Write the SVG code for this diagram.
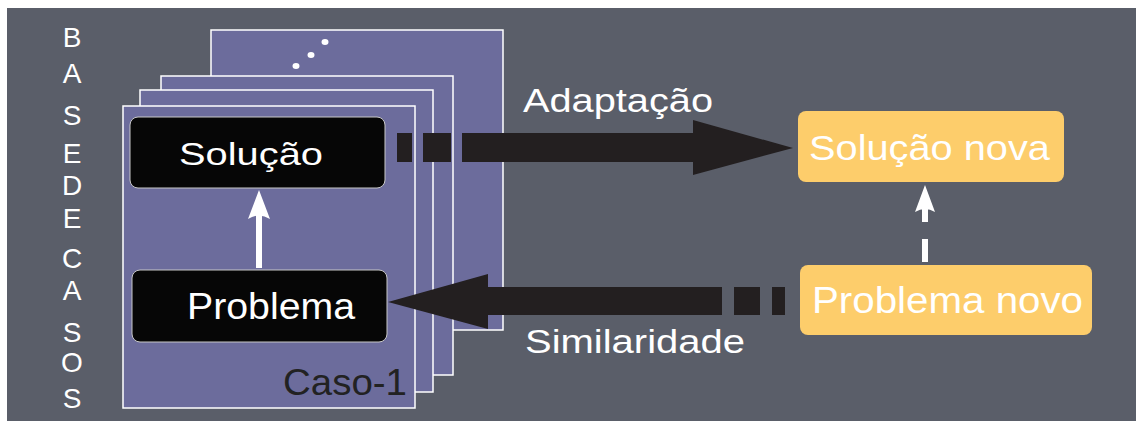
<svg xmlns="http://www.w3.org/2000/svg" width="1136" height="422" viewBox="0 0 1136 422">
<style>
.card{fill:#6c6c9c;stroke:#ffffff;stroke-width:1.5}
.blk{fill:#060606;stroke:#c8c8c8;stroke-width:1}
.yel{fill:#fdcd6b}
.t{font-family:"Liberation Sans",Arial,sans-serif;fill:#ffffff}
.ltr{font-family:"Liberation Sans",Arial,sans-serif;fill:#ffffff;font-size:28px;text-anchor:middle}
.dk{fill:#231f20}
.wh{fill:#ffffff}
</style>
<rect x="0" y="0" width="1136" height="422" fill="#ffffff"/>
<rect x="7" y="8" width="1129" height="413" fill="#5a5e69"/>
<g id="letters">
<text class="ltr" x="72" y="47">B</text>
<text class="ltr" x="72" y="83">A</text>
<text class="ltr" x="72" y="125">S</text>
<text class="ltr" x="72" y="163">E</text>
<text class="ltr" x="72" y="195">D</text>
<text class="ltr" x="72" y="228">E</text>
<text class="ltr" x="72" y="268">C</text>
<text class="ltr" x="72" y="300">A</text>
<text class="ltr" x="72" y="342">S</text>
<text class="ltr" x="72" y="372">O</text>
<text class="ltr" x="72" y="408">S</text>
</g>
<g id="cards">
<rect class="card" x="211" y="30" width="292" height="300"/>
<ellipse class="wh" cx="325" cy="42" rx="3.5" ry="3"/>
<ellipse class="wh" cx="311" cy="55" rx="3.5" ry="3"/>
<ellipse class="wh" cx="296" cy="66" rx="3.5" ry="3"/>
<rect class="card" x="161" y="76" width="292" height="299"/>
<rect class="card" x="140" y="90" width="293" height="302"/>
<rect class="card" x="123" y="106" width="292" height="302"/>
<text x="283" y="395" font-family="Liberation Sans, Arial, sans-serif" font-size="36" fill="#222222" textLength="124" lengthAdjust="spacingAndGlyphs">Caso-1</text>
</g>
<g id="solucao">
<rect class="blk" x="130" y="117" width="255" height="71" rx="8"/>
<text class="t" x="179" y="165" font-size="32" textLength="144" lengthAdjust="spacingAndGlyphs">Solução</text>
</g>
<g id="problema">
<rect class="blk" x="132" y="270" width="255" height="72" rx="8"/>
<text class="t" x="187" y="319" font-size="36" textLength="168" lengthAdjust="spacingAndGlyphs">Problema</text>
</g>
<g id="solucao-nova">
<rect class="yel" x="798" y="111" width="266" height="71" rx="8"/>
<text class="t" x="809" y="160" font-size="35" textLength="241" lengthAdjust="spacingAndGlyphs">Solução nova</text>
</g>
<g id="problema-novo">
<rect class="yel" x="800" y="265" width="292" height="70" rx="8"/>
<text class="t" x="812" y="313" font-size="36" textLength="271" lengthAdjust="spacingAndGlyphs">Problema novo</text>
</g>
<g id="connectors">
<rect class="wh" x="256" y="212" width="6" height="56"/>
<path class="wh" d="M259,190 L270,219 Q259,212 248,219 Z"/>
<rect class="dk" x="397" y="133" width="15" height="29"/>
<rect class="dk" x="423" y="133" width="28" height="29"/>
<rect class="dk" x="462" y="133" width="232" height="29"/>
<polygon class="dk" points="693,120 793,148 693,175"/>
<rect class="dk" x="772" y="287" width="13" height="28"/>
<rect class="dk" x="734" y="287" width="26" height="28"/>
<rect class="dk" x="487" y="287" width="235" height="28"/>
<polygon class="dk" points="488,274 388,302 488,329"/>
<rect class="wh" x="922" y="239" width="6" height="23"/>
<rect class="wh" x="922" y="206" width="6" height="16"/>
<path class="wh" d="M925,185 L935,212 Q925,206 915,212 Z"/>
<text class="t" x="523" y="112" font-size="34" textLength="190" lengthAdjust="spacingAndGlyphs">Adaptação</text>
<text class="t" x="525" y="353" font-size="33" textLength="220" lengthAdjust="spacingAndGlyphs">Similaridade</text>
</g>
</svg>
